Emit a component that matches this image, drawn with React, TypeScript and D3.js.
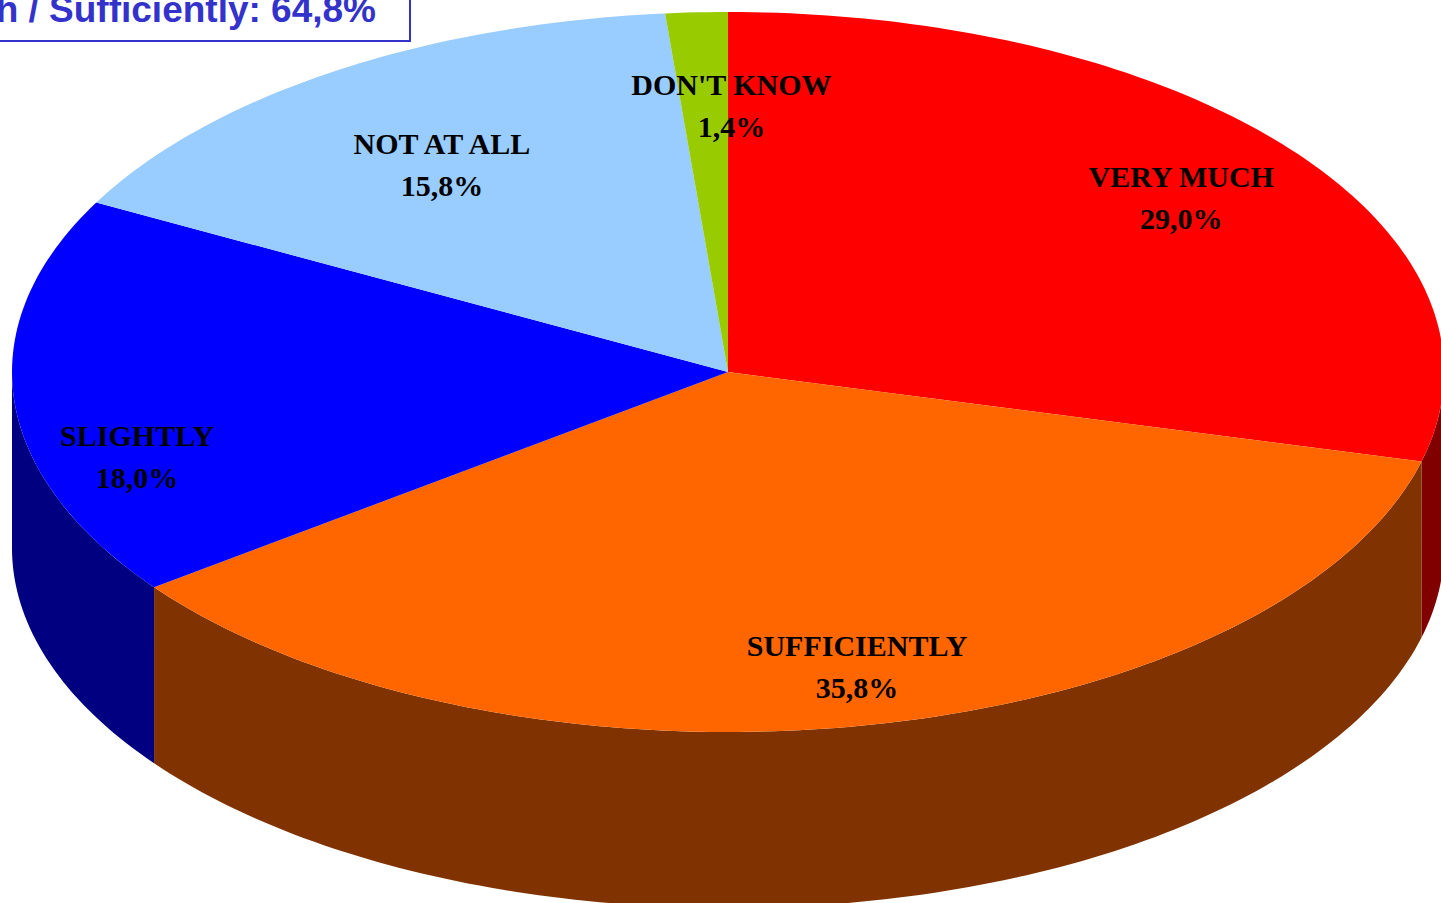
import React from 'react';
import * as d3 from 'd3';

// answers and shares (%)
const categories = ['VERY MUCH', 'SUFFICIENTLY', 'SLIGHTLY', 'NOT AT ALL', "DON'T KNOW"];
const shares = [29.0, 35.8, 18.0, 15.8, 1.4];
const topColors = ['#FF0000', '#FF6600', '#0000FF', '#99CCFF', '#99CC00'];
const sideColors = ['#800000', '#803300', '#000080', '#4D6680', '#4D6600'];
const titlePrefix = 'Very Much / Sufficiently: ';

const W = 1441;
const H = 903;

const App = () => {
  // ellipse of the pie top
  const cx = 728;
  const cy = 372;
  const rx = 716;
  const ry = 360;
  const depth = 176;

  const pt = (a: number, f = 1, dy = 0): [number, number] => [
    cx + rx * f * Math.sin(a),
    cy - ry * f * Math.cos(a) + dy,
  ];

  const arcPts = (a0: number, a1: number, dy = 0) => {
    const n = Math.max(2, Math.ceil(((a1 - a0) * 180) / Math.PI));
    return d3.range(n + 1).map((i) => pt(a0 + ((a1 - a0) * i) / n, 1, dy));
  };

  const line = d3.line().curve(d3.curveLinearClosed);

  const pie = d3
    .pie<number>()
    .sort(null)
    .value((d) => d)
    .startAngle(0)
    .endAngle(2 * Math.PI);
  const arcs = pie(shares);

  const fmt = (v: number) => d3.format('.1f')(v).replace('.', ',') + '%';

  // label nudges relative to the radial anchor
  const labelShift: Record<string, [number, number]> = {
    'VERY MUCH': [12, -2],
    SUFFICIENTLY: [21, 20],
    SLIGHTLY: [-34, 64],
    'NOT AT ALL': [22, 27],
    "DON'T KNOW": [28, 15],
  };

  const sides = arcs
    .map((a, i) => {
      const lo = Math.max(a.startAngle, Math.PI / 2);
      const hi = Math.min(a.endAngle, (3 * Math.PI) / 2);
      if (lo >= hi) return null;
      const top = arcPts(lo, hi);
      const bottom = arcPts(lo, hi, depth).reverse();
      return <path key={'s' + i} d={line([...top, ...bottom]) || ''} fill={sideColors[i]} />;
    })
    .filter(Boolean);

  const tops = arcs.map((a, i) => (
    <path
      key={'t' + i}
      d={line([[cx, cy], ...arcPts(a.startAngle, a.endAngle)]) || ''}
      fill={topColors[i]}
    />
  ));

  const labels = arcs.map((a, i) => {
    const mid = (a.startAngle + a.endAngle) / 2;
    const [bx, by] = pt(mid, 0.78);
    const [sx, sy] = labelShift[categories[i]] || [0, 0];
    const x = bx + sx;
    const y = by + sy - 11;
    return (
      <text
        key={'l' + i}
        x={x}
        y={y}
        textAnchor="middle"
        fontFamily="'Liberation Serif', 'Times New Roman', serif"
        fontWeight="bold"
        fontSize={30}
        fill="#000"
      >
        <tspan x={x}>{categories[i]}</tspan>
        <tspan x={x} dy={42}>
          {fmt(shares[i])}
        </tspan>
      </text>
    );
  });

  const topTwo = shares[0] + shares[1];

  return (
    <svg
      width={W}
      height={H}
      style={{ position: 'absolute', left: 0, top: 0, background: '#fff' }}
    >
      {sides}
      {tops}
      {labels}
      <rect x={-20} y={-20} width={430} height={61} fill="#fff" stroke="#3333CC" strokeWidth={2} />
      <text
        x={376}
        y={22}
        textAnchor="end"
        fontFamily="'Liberation Sans', Arial, sans-serif"
        fontWeight="bold"
        fontSize={37}
        fill="#3333CC"
      >
        {titlePrefix + fmt(topTwo)}
      </text>
    </svg>
  );
};

export default App;
